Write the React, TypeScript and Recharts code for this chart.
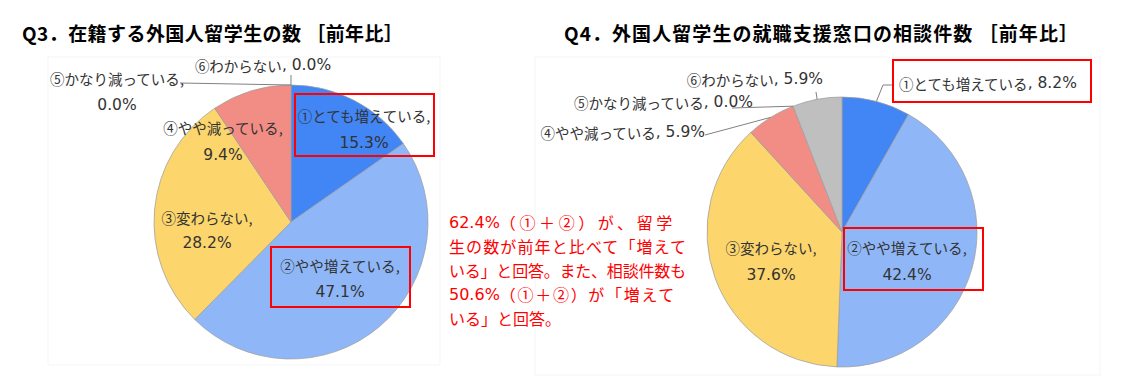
import React from "react";
import { PieChart, Pie, Cell } from "recharts";

// answer categories shared by both questions
const categories = [
  "①とても増えている",
  "②やや増えている",
  "③変わらない",
  "④やや減っている",
  "⑤かなり減っている",
  "⑥わからない",
];

// Q3: number of enrolled international students (% of respondents)
const q3Values = [15.3, 47.1, 28.2, 9.4, 0.0, 0.0];
// Q4: consultations at the job-support desk (% of respondents)
const q4Values = [8.2, 42.4, 37.6, 5.9, 0.0, 5.9];

const titles = [
  "Q3．在籍する外国人留学生の数 ［前年比］",
  "Q4．外国人留学生の就職支援窓口の相談件数 ［前年比］",
];

// annotation: [latin lead, japanese rest]
const noteLines: [string, string][] = [
  ["62.4%", "（①＋②）が、留学"],
  ["", "生の数が前年と比べて「増えて"],
  ["", "いる」と回答。また、相談件数も"],
  ["50.6%", "（①＋②）が「増えて"],
  ["", "いる」と回答。"],
];

const colors = ["#4285f4", "#8fb7f8", "#fcd66c", "#f28d85", "#b39ddb", "#bfbfbf"];
const jpFont = "'Noto Sans CJK JP', sans-serif";
const numFont = "'DejaVu Sans', sans-serif";
const labelColor = "#333333";
const RAD = Math.PI / 180;

type Spec = {
  dx: number;
  dy: number[]; // one entry = single line, two = name / value
  anchor?: "start" | "middle" | "end";
  box?: [number, number, number, number];
  leader?: [number, number][];
};

// label placement, relative to each pie's centre
const q3Layout: Spec[] = [
  { dx: 73, dy: [-107, -79], box: [4, -128, 143, -66] },
  { dx: 49, dy: [43, 70], box: [-20, 25, 119, 85] },
  { dx: -84, dy: [-5, 21] },
  { dx: -68, dy: [-95, -67] },
  { dx: -174, dy: [-144, -117], leader: [[-111, -139]] },
  { dx: -28, dy: [-157], leader: [[0, -147]] },
];

const q4Layout: Spec[] = [
  { dx: 57, dy: [-149], anchor: "start", box: [51, -172, 249, -130], leader: [[41, -147], [51, -147]] },
  { dx: 65, dy: [15, 43], box: [2, -4, 141, 58] },
  { dx: -71, dy: [15, 43] },
  { dx: -137, dy: [-100], anchor: "end", leader: [[-137, -97]] },
  { dx: -89, dy: [-130], anchor: "end", leader: [[-110, -124]] },
  { dx: -19, dy: [-153], anchor: "end", leader: [[-26, -140]] },
];

const q3Data = categories.map((name, i) => ({ name, value: q3Values[i] }));
const q4Data = categories.map((name, i) => ({ name, value: q4Values[i] }));

function makeLabel(layout: Spec[]) {
  return (p: any) => {
    const s = layout[p.index];
    if (!s) return null;
    const cx = Number(p.cx);
    const cy = Number(p.cy);
    const name = p.name ?? p.payload?.name;
    const pct = `${Number(p.value).toFixed(1)}%`;
    const ex = cx + p.outerRadius * Math.cos(-p.midAngle * RAD);
    const ey = cy + p.outerRadius * Math.sin(-p.midAngle * RAD);
    const common = {
      x: cx + s.dx,
      textAnchor: s.anchor ?? "middle",
      dominantBaseline: "central",
      fill: labelColor,
    } as const;
    return (
      <g key={`lbl-${p.index}`}>
        {s.leader && (
          <polyline
            points={[[ex, ey], ...s.leader.map(([x, y]) => [cx + x, cy + y])].map((q) => q.join(",")).join(" ")}
            fill="none"
            stroke="#808080"
            strokeWidth={1}
          />
        )}
        {s.box && (
          <rect
            x={cx + s.box[0]}
            y={cy + s.box[1]}
            width={s.box[2] - s.box[0]}
            height={s.box[3] - s.box[1]}
            fill="none"
            stroke="#ff0000"
            strokeWidth={2}
          />
        )}
        {s.dy.length === 2 ? (
          <>
            <text {...common} y={cy + s.dy[0]} fontSize={14.5} fontFamily={jpFont}>
              {name},
            </text>
            <text {...common} y={cy + s.dy[1]} fontSize={15.5} fontFamily={numFont}>
              {pct}
            </text>
          </>
        ) : (
          <text {...common} y={cy + s.dy[0]}>
            <tspan fontSize={14.5} fontFamily={jpFont}>{name}</tspan>
            <tspan fontSize={15.5} fontFamily={numFont}>{`, ${pct}`}</tspan>
          </text>
        )}
      </g>
    );
  };
}

export default function App() {
  return (
    <div style={{ position: "absolute", left: 0, top: 0, width: 1131, height: 383, background: "#fff" }}>
      <svg width={1131} height={383} style={{ position: "absolute", left: 0, top: 0 }}>
        <rect x={48} y={57} width={392} height={308} fill="none" stroke="#f5f5f5" />
        <rect x={535} y={57} width={565} height={318} fill="none" stroke="#f5f5f5" />
      </svg>
      <div style={{ position: "absolute", left: 0, top: 0 }}>
        <PieChart width={1131} height={383} margin={{ top: 0, right: 0, bottom: 0, left: 0 }}>
          <Pie
            data={q3Data}
            dataKey="value"
            nameKey="name"
            cx={291}
            cy={222}
            outerRadius={137}
            startAngle={90}
            endAngle={-270}
            stroke="#9e9e9e"
            strokeWidth={0.75}
            label={makeLabel(q3Layout)}
            labelLine={false}
            isAnimationActive={false}
          >
            {q3Data.map((_, i) => <Cell key={i} fill={colors[i]} />)}
          </Pie>
          <Pie
            data={q4Data}
            dataKey="value"
            nameKey="name"
            cx={842}
            cy={232}
            outerRadius={135}
            startAngle={90}
            endAngle={-270}
            stroke="#9e9e9e"
            strokeWidth={0.75}
            label={makeLabel(q4Layout)}
            labelLine={false}
            isAnimationActive={false}
          >
            {q4Data.map((_, i) => <Cell key={i} fill={colors[i]} />)}
          </Pie>
        </PieChart>
      </div>
      <svg width={1131} height={383} style={{ position: "absolute", left: 0, top: 0, pointerEvents: "none" }}>
        <text x={22} y={32} dominantBaseline="central" fontSize={19} fontWeight="bold" fontFamily={jpFont} fill="#000" textLength={381} lengthAdjust="spacing">
          {titles[0]}
        </text>
        <text x={564} y={32} dominantBaseline="central" fontSize={19} fontWeight="bold" fontFamily={jpFont} fill="#000" textLength={514} lengthAdjust="spacing">
          {titles[1]}
        </text>
        {noteLines.map(([lead, rest], i) => {
          const y = 222 + i * 24;
          if (lead) {
            const spacing = i === 0 ? 3.6 : 1.7;
            return (
              <text key={i} x={449} y={y} dominantBaseline="central" fill="#ff0000">
                <tspan fontSize={16} fontFamily={numFont}>{lead}</tspan>
                <tspan fontSize={16} fontFamily={jpFont} letterSpacing={spacing}>{rest}</tspan>
              </text>
            );
          }
          return (
            <text
              key={i}
              x={449}
              y={y}
              dominantBaseline="central"
              fontSize={16}
              fontFamily={jpFont}
              fill="#ff0000"
              {...(i < 4 ? { textLength: 237, lengthAdjust: "spacing" } : {})}
            >
              {rest}
            </text>
          );
        })}
      </svg>
    </div>
  );
}
